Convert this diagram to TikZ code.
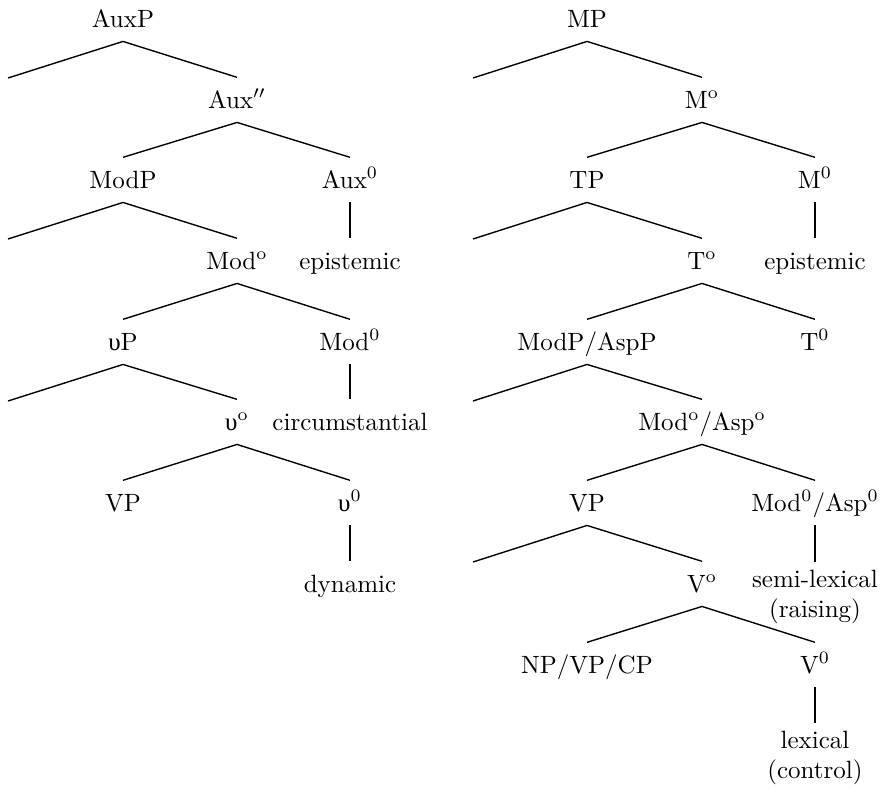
\documentclass[tikz,border=0pt]{standalone}
\usepackage{fontspec}
\newfontfamily\grkfont{Liberation Serif}
\newcommand{\ups}{{\grkfont υ}}
\tikzset{
  lbl/.style={inner xsep=0pt,inner ysep=0pt,text height=12pt,text depth=5.5pt,anchor=base},
  lbltwo/.style={inner xsep=0pt,inner ysep=3pt,align=center,anchor=north}
}
\begin{document}
\begin{tikzpicture}[x=0.4pt,y=-0.4pt,line width=0.55pt]
  \useasboundingbox (0,0) rectangle (885,787);
  % left tree
  \node[lbl] (auxp) at (123,27) {AuxP};
  \coordinate (auxpL) at (8,78);
  \node[lbl] (auxbar) at (237,108) {Aux$''$};
  \node[lbl] (modp) at (123,188) {ModP};
  \node[lbl] (auxz) at (350,188) {Aux$^0$};
  \coordinate (modpL) at (8,239);
  \node[lbl] (modbar) at (237,269) {Mod$^{\mathrm{o}}$};
  \node[lbl] (epi) at (350,269) {epistemic};
  \node[lbl] (vsmallp) at (123,350) {\ups P};
  \node[lbl] (modz) at (350,350) {Mod$^0$};
  \coordinate (vsmallpL) at (8,401);
  \node[lbl] (vsmallbar) at (237,430) {\ups$^{\mathrm{o}}$};
  \node[lbl] (circ) at (350,430) {circumstantial};
  \node[lbl] (vpa) at (123,511) {VP};
  \node[lbl] (vsmallz) at (350,511) {\ups$^0$};
  \node[lbl] (dyn) at (350,592) {dynamic};
  \draw (auxp.south) -- (auxpL);
  \draw (auxp.south) -- (auxbar.north);
  \draw (auxbar.south) -- (modp.north);
  \draw (auxbar.south) -- (auxz.north);
  \draw (auxz.south) -- (epi.north);
  \draw (modp.south) -- (modpL);
  \draw (modp.south) -- (modbar.north);
  \draw (modbar.south) -- (vsmallp.north);
  \draw (modbar.south) -- (modz.north);
  \draw (modz.south) -- (circ.north);
  \draw (vsmallp.south) -- (vsmallpL);
  \draw (vsmallp.south) -- (vsmallbar.north);
  \draw (vsmallbar.south) -- (vpa.north);
  \draw (vsmallbar.south) -- (vsmallz.north);
  \draw (vsmallz.south) -- (dyn.north);
  % right tree
  \node[lbl] (mp) at (587,27) {MP};
  \coordinate (mpL) at (473,78);
  \node[lbl] (mbar) at (702,108) {M$^{\mathrm{o}}$};
  \node[lbl] (tp) at (587,188) {TP};
  \node[lbl] (mz) at (815,188) {M$^0$};
  \coordinate (tpL) at (473,239);
  \node[lbl] (tbar) at (702,269) {T$^{\mathrm{o}}$};
  \node[lbl] (epib) at (815,269) {epistemic};
  \node[lbl] (modasp) at (587,350) {ModP/AspP};
  \node[lbl] (tz) at (815,350) {T$^0$};
  \coordinate (modaspL) at (473,401);
  \node[lbl] (modaspbar) at (702,430) {Mod$^{\mathrm{o}}$/Asp$^{\mathrm{o}}$};
  \node[lbl] (vpb) at (587,511) {VP};
  \node[lbl] (modaspz) at (815,511) {Mod$^0$/Asp$^0$};
  \coordinate (vpbL) at (473,562);
  \node[lbl] (vbar) at (702,592) {V$^{\mathrm{o}}$};
  \node[lbltwo] (semi) at (815,562) {semi-lexical\\(raising)};
  \node[lbl] (npvpcp) at (587,673) {NP/VP/CP};
  \node[lbl] (vz) at (815,673) {V$^0$};
  \node[lbltwo] (lex) at (815,723) {lexical\\(control)};
  \draw (mp.south) -- (mpL);
  \draw (mp.south) -- (mbar.north);
  \draw (mbar.south) -- (tp.north);
  \draw (mbar.south) -- (mz.north);
  \draw (mz.south) -- (epib.north);
  \draw (tp.south) -- (tpL);
  \draw (tp.south) -- (tbar.north);
  \draw (tbar.south) -- (modasp.north);
  \draw (tbar.south) -- (tz.north);
  \draw (modasp.south) -- (modaspL);
  \draw (modasp.south) -- (modaspbar.north);
  \draw (modaspbar.south) -- (vpb.north);
  \draw (modaspbar.south) -- (modaspz.north);
  \draw (modaspz.south) -- (semi.north);
  \draw (vpb.south) -- (vpbL);
  \draw (vpb.south) -- (vbar.north);
  \draw (vbar.south) -- (npvpcp.north);
  \draw (vbar.south) -- (vz.north);
  \draw (vz.south) -- (lex.north);
\end{tikzpicture}
\end{document}
